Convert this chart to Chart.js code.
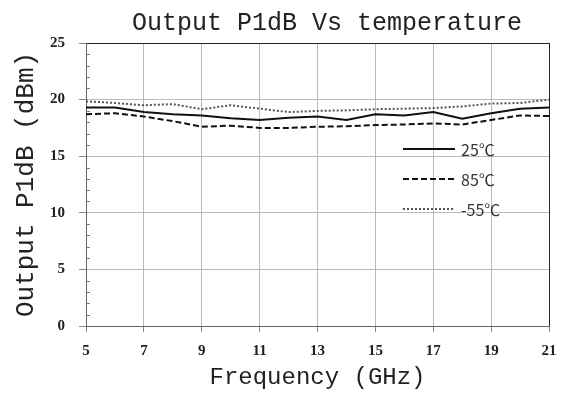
<!DOCTYPE html>
<html>
<head>
<meta charset="utf-8">
<script src="https://cdn.jsdelivr.net/npm/chart.js@4.4.1/dist/chart.umd.min.js"></script>
<style>
html,body{margin:0;padding:0;background:#fff;}
#wrap{width:568px;height:396px;position:relative;}
</style>
</head>
<body>
<div id="wrap"><canvas id="c" width="568" height="396"></canvas></div>
<script>
const frequencies = [5,6,7,8,9,10,11,12,13,14,15,16,17,18,19,20,21];
const p25 = [19.3,19.3,18.9,18.7,18.6,18.35,18.2,18.4,18.5,18.2,18.7,18.6,18.9,18.3,18.8,19.2,19.3];
const p85 = [18.7,18.8,18.5,18.1,17.6,17.7,17.5,17.5,17.6,17.65,17.75,17.8,17.9,17.8,18.2,18.6,18.55];
const pm55 = [19.85,19.7,19.5,19.6,19.15,19.5,19.2,18.9,19.0,19.05,19.15,19.2,19.25,19.4,19.65,19.7,20.0];
const seriesLabels = ['25℃','85℃','-55℃'];
const xTicks = [5,7,9,11,13,15,17,19,21];
const yMajor = [0,5,10,15,20,25];

const titleText = 'Output P1dB Vs temperature';

const toPts = arr => frequencies.map((f,i)=>({x:f,y:arr[i]}));

const titlePlugin = {
  id:'customTitle',
  afterDraw(chart){
    const ctx = chart.ctx;
    ctx.save();
    ctx.font = '25px "Liberation Mono"';
    ctx.fillStyle = '#222';
    ctx.textAlign = 'center';
    ctx.textBaseline = 'alphabetic';
    ctx.fillText(titleText, 327, 30);
    ctx.restore();
  }
};

const minorTicks = {
  id:'minorTicks',
  afterDraw(chart){
    const y = chart.scales.y, ctx = chart.ctx;
    const x0 = chart.chartArea.left;
    ctx.save();
    ctx.strokeStyle = '#777';
    ctx.lineWidth = 1;
    for(let v=0; v<=25; v++){
      if(v%5===0) continue;
      const py = Math.round(y.getPixelForValue(v))+0.5;
      ctx.beginPath(); ctx.moveTo(x0, py); ctx.lineTo(x0+4, py); ctx.stroke();
    }
    ctx.restore();
  }
};

const innerLegend = {
  id:'innerLegend',
  afterDraw(chart){
    const ctx = chart.ctx;
    const x1 = 403, x2 = 455, tx = 461;
    const ys = [149,179,209];
    ctx.save();
    chart.data.datasets.forEach((ds,i)=>{
      ctx.strokeStyle = ds.borderColor;
      ctx.lineWidth = ds.borderWidth;
      ctx.setLineDash(ds.borderDash || []);
      ctx.beginPath(); ctx.moveTo(x1, ys[i]); ctx.lineTo(x2, ys[i]); ctx.stroke();
      ctx.setLineDash([]);
      ctx.font = '16px "Noto Sans CJK SC"';
      ctx.fillStyle = '#333';
      ctx.textAlign = 'left';
      ctx.textBaseline = 'middle';
      ctx.fillText(ds.label, tx, ys[i]+1);
    });
    ctx.restore();
  }
};

new Chart(document.getElementById('c'), {
  type:'line',
  data:{
    datasets:[
      {label:seriesLabels[0], data:toPts(p25), borderColor:'#111', borderWidth:2, pointRadius:0, tension:0},
      {label:seriesLabels[1], data:toPts(p85), borderColor:'#111', borderWidth:2, borderDash:[6,3], pointRadius:0, tension:0},
      {label:seriesLabels[2], data:toPts(pm55), borderColor:'#555', borderWidth:2, borderDash:[2,2], pointRadius:0, tension:0}
    ]
  },
  options:{
    responsive:false,
    animation:false,
    layout:{padding:{top:43,right:19,left:0,bottom:0}},
    plugins:{legend:{display:false}, title:{display:false}, tooltip:{enabled:false}},
    scales:{
      x:{
        type:'linear', min:5, max:21,
        afterBuildTicks(s){ s.ticks = xTicks.map(v=>({value:v})); },
        afterFit(s){ s.height = 70; },
        grid:{
          color:c=> c.tick && c.tick.value===21 ? '#222' : '#bbb',
          lineWidth:1, drawTicks:true, tickLength:6, tickColor:'#888'
        },
        border:{display:true, color:'#666', width:1},
        ticks:{font:{family:'"Liberation Serif"', size:15, weight:'bold'}, color:'#222', padding:10, maxRotation:0},
        title:{display:true, text:'Frequency (GHz)', font:{family:'"Liberation Mono"', size:24}, color:'#222', padding:{top:0,bottom:4}}
      },
      y:{
        type:'linear', min:0, max:25,
        afterBuildTicks(s){ s.ticks = yMajor.map(v=>({value:v})); },
        afterFit(s){ s.width = 86; },
        grid:{
          color:c=> c.tick && c.tick.value===25 ? '#222' : '#bbb',
          lineWidth:1, drawTicks:true, tickLength:7, tickColor:'#888'
        },
        border:{display:true, color:'#666', width:1},
        ticks:{font:{family:'"Liberation Serif"', size:15, weight:'bold'}, color:'#222', padding:14},
        title:{display:true, text:'Output P1dB (dBm)', font:{family:'"Liberation Mono"', size:26}, color:'#222', padding:{top:11,bottom:0}}
      }
    }
  },
  plugins:[titlePlugin, minorTicks, innerLegend]
});
</script>
</body>
</html>
